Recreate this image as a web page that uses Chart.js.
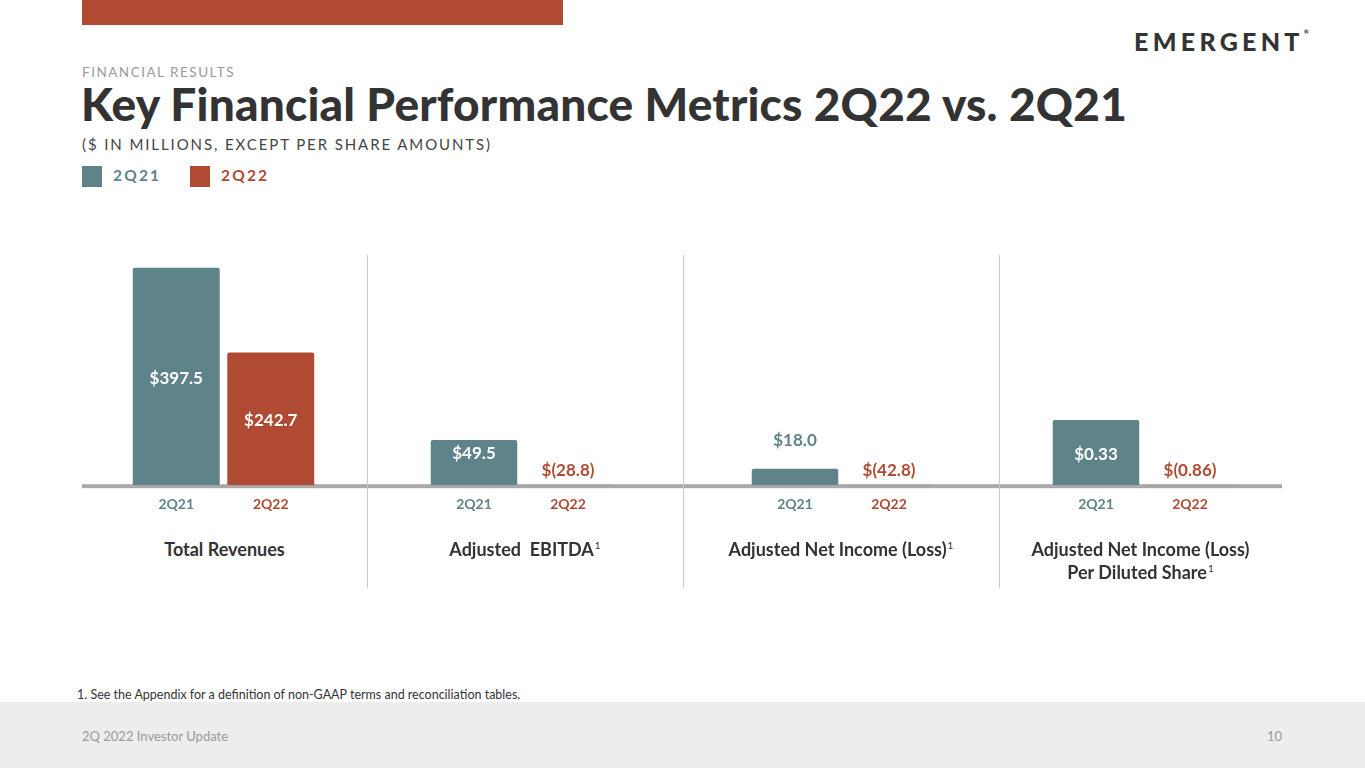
<!DOCTYPE html>
<html>
<head>
<meta charset="utf-8">
<script src="https://cdn.jsdelivr.net/npm/chart.js@4.4.0/dist/chart.umd.min.js"></script>
<style>
  html,body{margin:0;padding:0;background:#fff;}
  body{width:1365px;height:768px;position:relative;overflow:hidden;font-family:Lato,"Noto Sans",sans-serif;}
  .abs{position:absolute;}
  #topbar{left:82px;top:0;width:481px;height:25px;background:#b04a33;}
  #logo{left:1134px;top:26px;font:900 25px Lato,sans-serif;letter-spacing:4.3px;color:#333;white-space:nowrap;}
  #logo sup{font-size:6px;vertical-align:top;letter-spacing:0;line-height:0;position:relative;top:6px;}
  #kicker{left:82px;top:64px;font-size:13.5px;letter-spacing:1.5px;color:#9a9a9a;}
  #title{left:81px;top:76px;font-weight:900;font-size:46px;letter-spacing:0.2px;color:#333;white-space:nowrap;}
  #sub{left:82px;top:135px;font-size:15px;letter-spacing:1.9px;color:#444;white-space:nowrap;}
  .sw{top:166px;width:20px;height:21px;}
  .lg{top:166px;font-weight:700;font-size:15.5px;letter-spacing:2.2px;}
  .sep{top:255px;width:1px;height:333px;background:#c9c9c9;}
  .cat{top:538px;font-weight:700;font-size:18px;color:#333;text-align:center;line-height:23px;white-space:nowrap;}
  .cat sup{font-size:10px;font-weight:400;line-height:0;vertical-align:baseline;position:relative;top:-7px;margin-left:1px;}
  .panel{top:250px;height:274px;}
  #foot{left:0;top:702px;width:1365px;height:66px;background:#ededed;}
  #note{left:77px;top:687px;font-size:12.5px;color:#333;}
  #left{left:82px;top:728px;font-size:13px;color:#9a9a9a;}
  #pg{left:1267px;top:728px;font-size:13px;color:#9a9a9a;}
</style>
</head>
<body>
<div id="topbar" class="abs"></div>
<div id="logo" class="abs">EMERGENT<sup>®</sup></div>
<div id="kicker" class="abs">FINANCIAL RESULTS</div>
<div id="title" class="abs">Key Financial Performance Metrics 2Q22 vs. 2Q21</div>
<div id="sub" class="abs">($ IN MILLIONS, EXCEPT PER SHARE AMOUNTS)</div>
<div class="abs sw" style="left:82px;background:#5e8389;"></div>
<div class="abs lg" style="left:113px;color:#5e8389;">2Q21</div>
<div class="abs sw" style="left:190px;background:#b04a33;"></div>
<div class="abs lg" style="left:221px;color:#b04a33;">2Q22</div>

<div class="abs panel" style="left:82px;width:285px;"><canvas id="c0"></canvas></div>
<div class="abs panel" style="left:367px;width:316px;"><canvas id="c1"></canvas></div>
<div class="abs panel" style="left:683px;width:316px;"><canvas id="c2"></canvas></div>
<div class="abs panel" style="left:999px;width:283px;"><canvas id="c3"></canvas></div>

<div class="abs sep" style="left:367px;"></div>
<div class="abs sep" style="left:683px;"></div>
<div class="abs sep" style="left:999px;"></div>

<div class="abs cat" style="left:82px;width:285px;">Total Revenues</div>
<div class="abs cat" style="left:367px;width:316px;">Adjusted&nbsp; EBITDA<sup>1</sup></div>
<div class="abs cat" style="left:683px;width:316px;">Adjusted Net Income (Loss)<sup>1</sup></div>
<div class="abs cat" style="left:999px;width:283px;">Adjusted Net Income (Loss)<br>Per Diluted Share<sup>1</sup></div>

<div id="foot" class="abs"></div>
<div id="note" class="abs">1. See the Appendix for a definition of non-GAAP terms and reconciliation tables.</div>
<div id="left" class="abs">2Q 2022 Investor Update</div>
<div id="pg" class="abs">10</div>

<script>
// ---- data ----
const periods = ['2Q21', '2Q22'];
const metrics = ['Total Revenues', 'Adjusted EBITDA', 'Adjusted Net Income (Loss)', 'Adjusted Net Income (Loss) Per Diluted Share'];
const values2Q21 = [397.5, 49.5, 18.0, 0.33];
const values2Q22 = [242.7, -28.8, -42.8, -0.86];
const valueLabels2Q21 = ['$397.5', '$49.5', '$18.0', '$0.33'];
const valueLabels2Q22 = ['$242.7', '$(28.8)', '$(42.8)', '$(0.86)'];
const axisMax = [421, 252, 252, 1.163];

// ---- style ----
const TEAL = '#5e8389';
const RED = '#b04a33';
const FONT = 'Lato, "Noto Sans", sans-serif';
const sidePad = [[47, 49], [60, 68], [65, 63], [50, 45]];

const labelPlugin = {
  id: 'valueLabels',
  beforeDatasetsDraw(chart) {
    const ctx = chart.ctx;
    const y0 = chart.scales.y.getPixelForValue(0);
    ctx.save();
    ctx.fillStyle = '#a9a9a9';
    ctx.fillRect(0, y0 - 1, chart.width, 4);
    ctx.restore();
  },
  afterDatasetsDraw(chart) {
    const ctx = chart.ctx;
    const meta = chart.getDatasetMeta(0);
    const labels = chart.options.plugins.valueLabels.labels;
    const y0 = chart.scales.y.getPixelForValue(0);
    ctx.save();
    ctx.font = '700 17px ' + FONT;
    ctx.textAlign = 'center';
    ctx.textBaseline = 'middle';
    meta.data.forEach((bar, i) => {
      const v = chart.data.datasets[0].data[i];
      let y, color;
      if (v < 0) { y = y0 - 15; color = RED; }
      else {
        const h = y0 - bar.y;
        if (h > 40) { y = Math.min((bar.y + y0) / 2, bar.y + 14) ; if (h > 60) y = (bar.y + y0) / 2 + 2; color = '#fff'; }
        else { y = bar.y - 28; color = TEAL; }
      }
      ctx.fillStyle = color;
      ctx.fillText(labels[i], bar.x, y);
    });
    ctx.restore();
  }
};

metrics.forEach((m, k) => {
  new Chart(document.getElementById('c' + k), {
    type: 'bar',
    data: {
      labels: periods,
      datasets: [{
        label: m,
        data: [values2Q21[k], values2Q22[k]],
        backgroundColor: [TEAL, RED],
        borderRadius: 2,
        borderSkipped: 'start',
        barPercentage: 0.92,
        categoryPercentage: 1,
        clip: 0
      }]
    },
    options: {
      responsive: true,
      maintainAspectRatio: false,
      animation: false,
      layout: { padding: { top: 5, bottom: 8, left: sidePad[k][0], right: sidePad[k][1] } },
      plugins: {
        legend: { display: false },
        tooltip: { enabled: false },
        valueLabels: { labels: [valueLabels2Q21[k], valueLabels2Q22[k]] }
      },
      scales: {
        x: {
          grid: { display: false },
          border: { display: false },
          ticks: {
            padding: 3,
            color: [TEAL, RED],
            font: { family: FONT, size: 14, weight: '700' }
          }
        },
        y: {
          display: false,
          min: 0,
          max: axisMax[k]
        }
      }
    },
    plugins: [labelPlugin]
  });
});
</script>
</body>
</html>
